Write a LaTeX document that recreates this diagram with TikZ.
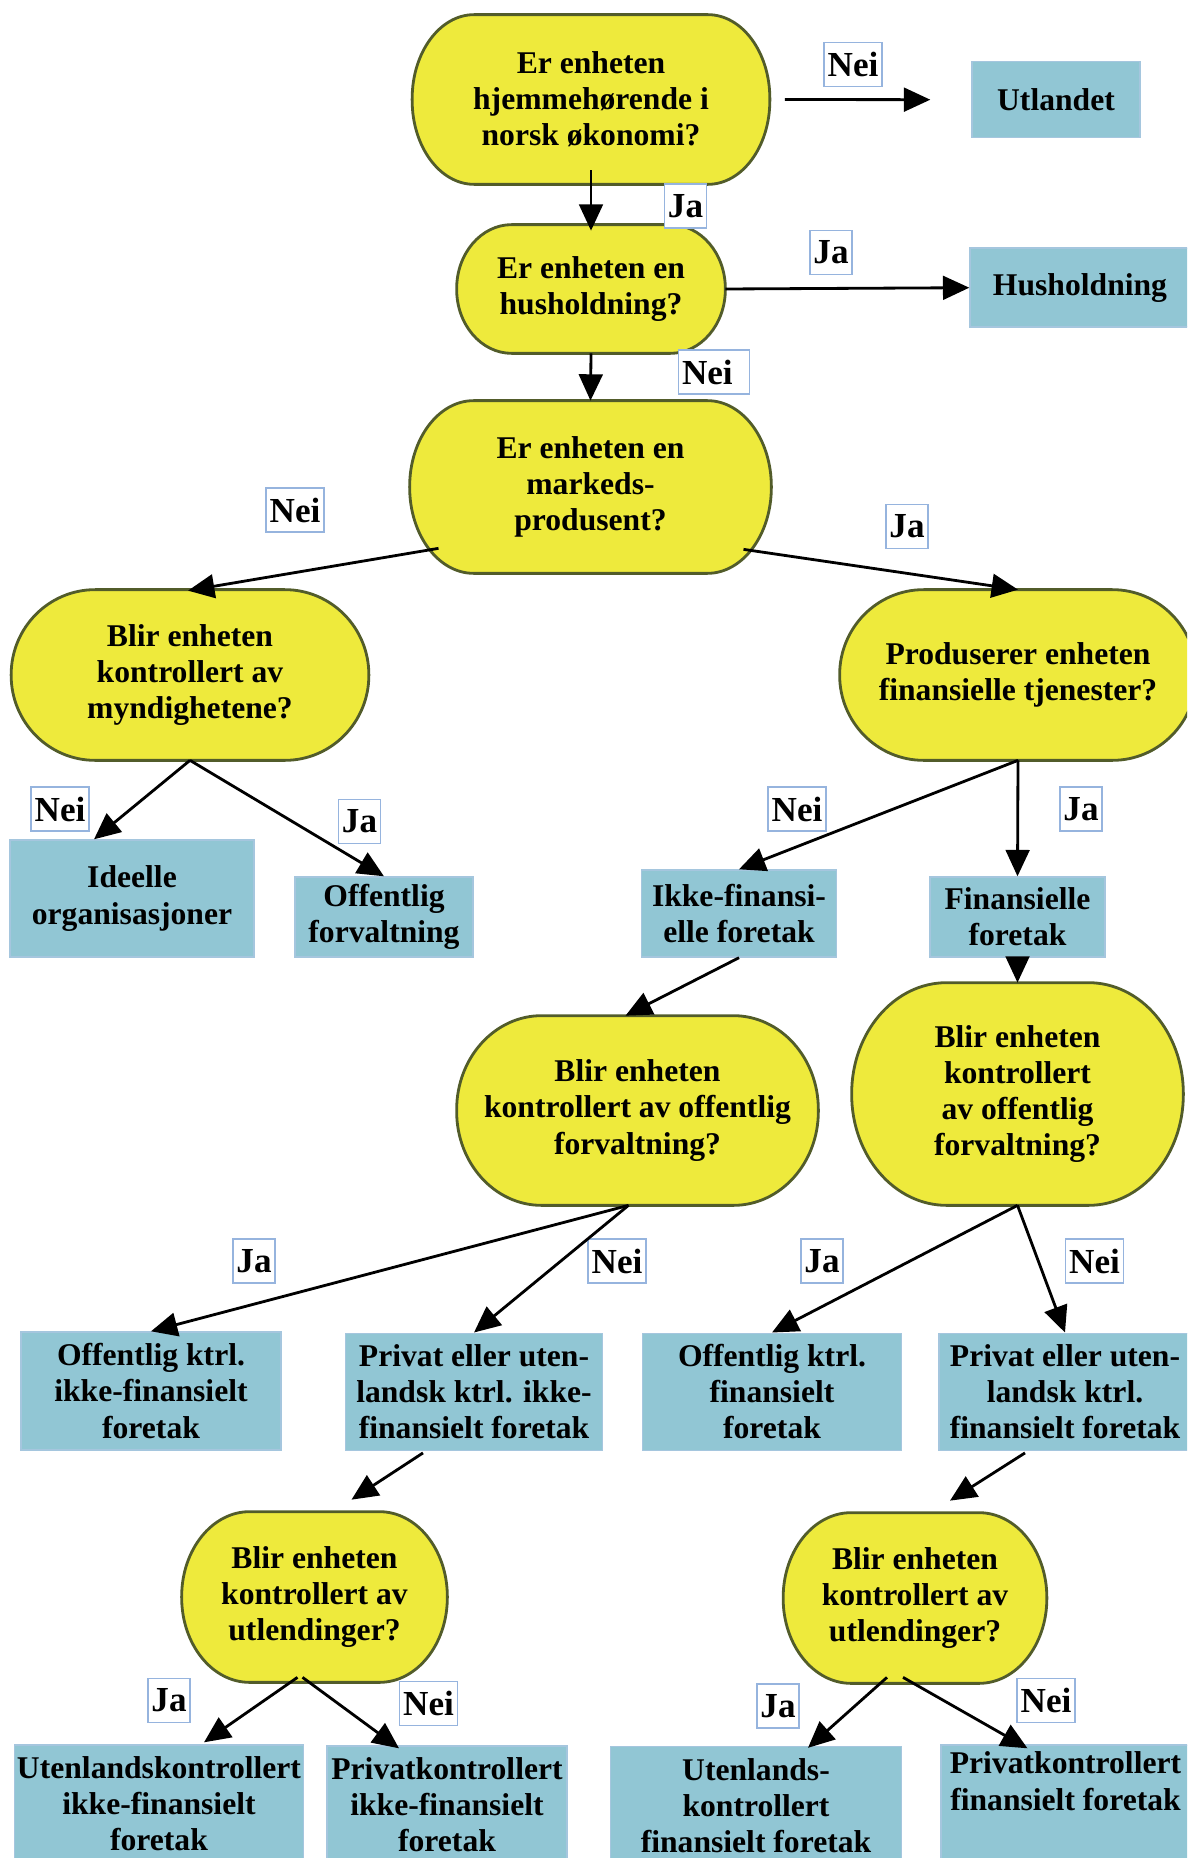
\documentclass[tikz,border=0pt]{standalone}
\usepackage{fontspec}
\setmainfont{Liberation Serif}
\usetikzlibrary{calc,arrows.meta,backgrounds}

\definecolor{qyellow}{RGB}{238,234,60}
\definecolor{qedge}{RGB}{82,92,42}
\definecolor{boxblue}{RGB}{145,198,212}
\definecolor{boxedge}{RGB}{165,198,222}
\definecolor{tagedge}{RGB}{150,180,222}

\newcommand\dfont{\fontsize{18}{20.5}\selectfont\bfseries}
\newcommand\lfont{\fontsize{20}{22}\selectfont\bfseries}

% yellow question shape round a node: node, x radius, y radius (in px)
\newcommand\DrawCapsule[3]{%
  \pgfmathsetmacro\rx{#2*0.02}%
  \pgfmathsetmacro\ry{#3*0.02}%
  \draw[capsule] ([xshift=\rx cm]#1.north west) -- ([xshift=-\rx cm]#1.north east)
    arc[start angle=90,end angle=0,x radius=\rx cm,y radius=\ry cm]
    -- ([yshift=\ry cm]#1.south east)
    arc[start angle=0,end angle=-90,x radius=\rx cm,y radius=\ry cm]
    -- ([xshift=\rx cm]#1.south west)
    arc[start angle=270,end angle=180,x radius=\rx cm,y radius=\ry cm]
    -- ([yshift=-\ry cm]#1.north west)
    arc[start angle=180,end angle=90,x radius=\rx cm,y radius=\ry cm]
    -- cycle;
}

\tikzset{%
  >={Triangle[length=15pt,width=13.5pt]}, % big filled heads
  capsule/.style={fill=qyellow,draw=qedge,line width=1.6pt},
  decision/.style={inner sep=0pt,align=center,font=\dfont},
  outcome/.style={fill=boxblue,draw=boxedge,line width=0.8pt,inner sep=0pt,
    align=center,font=\dfont},
  answer/.style={fill=white,draw=tagedge,line width=0.8pt,inner xsep=2pt,
    inner ysep=0pt,minimum height=0.88cm,font=\lfont},
  flow/.style={->,line width=1.6pt},
  wh/.style 2 args={minimum width=#1*0.02cm,minimum height=#2*0.02cm}%
}

\begin{document}
\begin{tikzpicture}[x=0.02cm,y=-0.02cm]

%% page (1 unit = 1 px, y downwards)

\useasboundingbox (0,0) rectangle (1187,1858);
\clip (0,0) rectangle (1187,1858);

%% questions

\node[decision,wh={357}{169}] (hjem) at (591,99.5) {Er enheten\\hjemmehørende i\\norsk økonomi?};
\node[decision,wh={268}{128}] (hus) at (591,289) {Er enheten en\\husholdning?};
\node[decision,wh={361}{172}] (mkt) at (590.5,487) {Er enheten en\\markeds-\\produsent?};
\node[decision,wh={357}{170}] (mynd) at (190,675) {Blir enheten\\kontrollert av\\myndighetene?};
\node[decision,wh={356}{170}] (prod) at (1018,675) {Produserer enheten\\finansielle tjenester?};
\node[decision,wh={361}{189}] (offL) at (637.5,1110.5) {Blir enheten\\kontrollert av offentlig\\forvaltning?};
\node[decision,wh={331}{222}] (offR) at (1017.5,1094) {Blir enheten\\kontrollert\\av offentlig\\forvaltning?};
\node[decision,wh={265}{170}] (utlL) at (314.5,1597) {Blir enheten\\kontrollert av\\utlendinger?};
\node[decision,wh={263}{170}] (utlR) at (915,1598) {Blir enheten\\kontrollert av\\utlendinger?};

%% sectors

\node[outcome,wh={168}{76}] (utland) at (1056,99.7) {Utlandet};
\node[outcome,wh={220}{79}] (hush) at (1080,287.7) {Husholdning};
\node[outcome,wh={244}{117}] (ideell) at (132,898.5) {Ideelle\\organisasjoner};
\node[outcome,wh={178}{80}] (offforv) at (384,917) {Offentlig\\forvaltning};
\node[outcome,wh={195}{87}] (ikkefin) at (739,913.5) {Ikke-finansi-\\elle foretak};
\node[outcome,wh={175}{80}] (fin) at (1017.5,917) {Finansielle\\foretak};
\node[outcome,wh={260}{118}] (offikke) at (151,1391) {Offentlig ktrl.\\ikke-finansielt\\foretak};
\node[outcome,wh={257}{117}] (privikke) at (474,1391.7) {Privat eller uten-\\landsk ktrl. ikke-\\finansielt foretak};
\node[outcome,wh={259}{117}] (offfin) at (772,1391.7) {Offentlig ktrl.\\finansielt\\foretak};
\node[outcome,wh={252}{117}] (privfin) at (1065,1391.7) {Privat eller uten-\\landsk ktrl.\\finansielt foretak};
\node[outcome,wh={289}{118}] (utlikke) at (159,1804) {Utenlandskontrollert\\ikke-finansielt\\foretak};
\node[outcome,wh={240}{118}] (privkikke) at (447,1805) {Privatkontrollert\\ikke-finansielt\\foretak};
\node[outcome,wh={291}{118}] (utlfin) at (756,1805.5) {Utenlands-\\kontrollert\\finansielt foretak};
\node[outcome,wh={249}{118},text depth=0.92cm] (privkfin) at (1065.5,1804) {Privatkontrollert\\finansielt foretak};

%% answers

\node[answer] (nei1) at (853,64.7) {Nei};
\node[answer] (ja1) at (685.5,206) {Ja};
\node[answer] (ja2) at (831,252.5) {Ja};
\node[answer,text width=1.28cm,align=left] (nei2) at (714,372) {Nei};
\node[answer] (nei3) at (295,510) {Nei};
\node[answer] (ja3) at (907,526.4) {Ja};
\node[answer] (nei4) at (60,809) {Nei};
\node[answer] (ja4) at (359.5,821.5) {Ja};
\node[answer] (nei5) at (797,809) {Nei};
\node[answer] (ja5) at (1081,809) {Ja};
\node[answer] (ja6) at (254,1261) {Ja};
\node[answer] (nei6) at (617,1261) {Nei};
\node[answer] (ja7) at (822,1261) {Ja};
\node[answer] (nei7) at (1094.5,1261) {Nei};
\node[answer] (ja8) at (169,1700.5) {Ja};
\node[answer] (nei8) at (428.5,1703.7) {Nei};
\node[answer] (ja9) at (778,1706) {Ja};
\node[answer] (nei9) at (1046,1700.5) {Nei};

%% arrows

\draw[flow] ($(hjem.east)+(15,0)$) -- ($(utland.west)+(-41,0)$);
\draw[flow] ($(hjem.south)+(0,-14)$) -- ($(hus.north)+(0,6)$);
\draw[flow] (hus.east) -- (hush.west);
\draw[flow] (hus.south) -- (mkt.north);
\draw[flow] ($(mkt.south)+(-152,-25)$) -- ($(mynd.north)+(-2,1)$);
\draw[flow] ($(mkt.south)+(153,-24)$) -- (prod.north);
\draw[flow] (mynd.south) -- ($(ideell.north)+(-38,0)$);
\draw[flow] (mynd.south) -- (offforv.north);
\draw[flow] (prod.south) -- (ikkefin.north);
\draw[flow] (prod.south) -- (fin.north);
\draw[flow] (ikkefin.south) -- ($(offL.north)+(-12,0)$);
\draw[flow] (fin.south) -- (offR.north);
\draw[flow] ($(offL.south)+(-9,0)$) -- (offikke.north);
\draw[flow] ($(offL.south)+(-9,0)$) -- (privikke.north);
\draw[flow] (offR.south) -- (offfin.north);
\draw[flow] (offR.south) -- (privfin.north);
\draw[flow] ($(privikke.south)+(-51,2)$) -- ($(utlL.north)+(37,-12)$);
\draw[flow] ($(privfin.south)+(-40,2)$) -- ($(utlR.north)+(35,-12)$);
\draw[flow] ($(utlL.south)+(-17,-5)$) -- ($(utlikke.north)+(45,-2)$);
\draw[flow] ($(utlL.south)+(-12,-5)$) -- ($(privkikke.north)+(-48,3)$);
\draw[flow] ($(utlR.south)+(-28,-6)$) -- ($(utlfin.north)+(52,2)$);
\draw[flow] ($(utlR.south)+(-12,-6)$) -- ($(privkfin.north)+(-38,4)$);

%% question shapes behind the text

\begin{scope}[on background layer]
  \clip (0,0) rectangle (1187,1858);
  \DrawCapsule{hjem}{62}{84}
  \DrawCapsule{hus}{55}{64}
  \DrawCapsule{mkt}{64}{86}
  \DrawCapsule{mynd}{84}{85}
  \DrawCapsule{prod}{84}{85}
  \DrawCapsule{offL}{85}{94}
  \DrawCapsule{offR}{95}{111}
  \DrawCapsule{utlL}{68}{85}
  \DrawCapsule{utlR}{68}{85}
\end{scope}

\end{tikzpicture}
\end{document}
